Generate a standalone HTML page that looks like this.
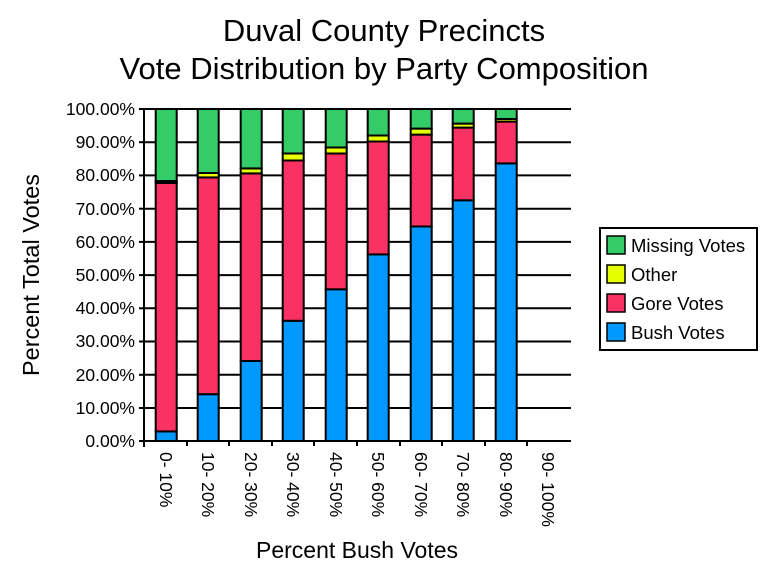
<!DOCTYPE html>
<html><head><meta charset="utf-8"><style>body{margin:0;background:#fff}svg{display:block}text{font-family:"Liberation Sans",Arial,sans-serif;fill:#000}</style></head>
<body>
<svg width="768" height="576" xmlns="http://www.w3.org/2000/svg">
<text x="384" y="41" font-size="31" text-anchor="middle">Duval County Precincts</text>
<text x="384" y="79" font-size="31" text-anchor="middle">Vote Distribution by Party Composition</text>
<g stroke="#000" stroke-width="2">
<line x1="144" y1="109" x2="571" y2="109"/><line x1="144" y1="142.2" x2="571" y2="142.2"/><line x1="144" y1="175.4" x2="571" y2="175.4"/><line x1="144" y1="208.7" x2="571" y2="208.7"/><line x1="144" y1="241.9" x2="571" y2="241.9"/><line x1="144" y1="275.1" x2="571" y2="275.1"/><line x1="144" y1="308.3" x2="571" y2="308.3"/><line x1="144" y1="341.5" x2="571" y2="341.5"/><line x1="144" y1="374.8" x2="571" y2="374.8"/><line x1="144" y1="408" x2="571" y2="408"/><line x1="144" y1="441" x2="571" y2="441"/>
<line x1="144" y1="108" x2="144" y2="447"/>
<line x1="139" y1="109" x2="144" y2="109"/><line x1="139" y1="142.2" x2="144" y2="142.2"/><line x1="139" y1="175.4" x2="144" y2="175.4"/><line x1="139" y1="208.7" x2="144" y2="208.7"/><line x1="139" y1="241.9" x2="144" y2="241.9"/><line x1="139" y1="275.1" x2="144" y2="275.1"/><line x1="139" y1="308.3" x2="144" y2="308.3"/><line x1="139" y1="341.5" x2="144" y2="341.5"/><line x1="139" y1="374.8" x2="144" y2="374.8"/><line x1="139" y1="408" x2="144" y2="408"/><line x1="139" y1="441" x2="144" y2="441"/>
<line x1="187" y1="441" x2="187" y2="446"/><line x1="229" y1="441" x2="229" y2="446"/><line x1="272" y1="441" x2="272" y2="446"/><line x1="314" y1="441" x2="314" y2="446"/><line x1="357" y1="441" x2="357" y2="446"/><line x1="400" y1="441" x2="400" y2="446"/><line x1="442" y1="441" x2="442" y2="446"/><line x1="485" y1="441" x2="485" y2="446"/><line x1="527" y1="441" x2="527" y2="446"/>
</g>
<g font-size="17.5" text-anchor="end">
<text x="135" y="115">100.00%</text><text x="135" y="148">90.00%</text><text x="135" y="181">80.00%</text><text x="135" y="215">70.00%</text><text x="135" y="248">60.00%</text><text x="135" y="281">50.00%</text><text x="135" y="314">40.00%</text><text x="135" y="347">30.00%</text><text x="135" y="381">20.00%</text><text x="135" y="414">10.00%</text><text x="135" y="447">0.00%</text>
</g>
<g stroke="#000" stroke-width="2">
<rect x="155.7" y="431.4" width="21" height="9.6" fill="#0099ff"/><rect x="155.7" y="183" width="21" height="248.4" fill="#fa3263"/><rect x="155.7" y="181" width="21" height="2" fill="#e6ff00"/><rect x="155.7" y="109" width="21" height="72" fill="#33cc66"/>
<rect x="197.7" y="394.2" width="21" height="46.8" fill="#0099ff"/><rect x="197.7" y="177.4" width="21" height="216.8" fill="#fa3263"/><rect x="197.7" y="173" width="21" height="4.4" fill="#e6ff00"/><rect x="197.7" y="109" width="21" height="64" fill="#33cc66"/>
<rect x="240.7" y="361" width="21" height="80" fill="#0099ff"/><rect x="240.7" y="173.4" width="21" height="187.6" fill="#fa3263"/><rect x="240.7" y="168.4" width="21" height="5" fill="#e6ff00"/><rect x="240.7" y="109" width="21" height="59.4" fill="#33cc66"/>
<rect x="282.7" y="320.8" width="21" height="120.2" fill="#0099ff"/><rect x="282.7" y="160.5" width="21" height="160.3" fill="#fa3263"/><rect x="282.7" y="153.5" width="21" height="7" fill="#e6ff00"/><rect x="282.7" y="109" width="21" height="44.5" fill="#33cc66"/>
<rect x="325.7" y="289.3" width="21" height="151.7" fill="#0099ff"/><rect x="325.7" y="153.5" width="21" height="135.8" fill="#fa3263"/><rect x="325.7" y="147.5" width="21" height="6" fill="#e6ff00"/><rect x="325.7" y="109" width="21" height="38.5" fill="#33cc66"/>
<rect x="367.7" y="254.4" width="21" height="186.6" fill="#0099ff"/><rect x="367.7" y="141.5" width="21" height="112.9" fill="#fa3263"/><rect x="367.7" y="135.5" width="21" height="6" fill="#e6ff00"/><rect x="367.7" y="109" width="21" height="26.5" fill="#33cc66"/>
<rect x="410.7" y="226.5" width="21" height="214.5" fill="#0099ff"/><rect x="410.7" y="134.6" width="21" height="91.9" fill="#fa3263"/><rect x="410.7" y="128.6" width="21" height="6" fill="#e6ff00"/><rect x="410.7" y="109" width="21" height="19.6" fill="#33cc66"/>
<rect x="452.7" y="200.3" width="21" height="240.7" fill="#0099ff"/><rect x="452.7" y="127.6" width="21" height="72.7" fill="#fa3263"/><rect x="452.7" y="123.6" width="21" height="4" fill="#e6ff00"/><rect x="452.7" y="109" width="21" height="14.6" fill="#33cc66"/>
<rect x="495.7" y="163.4" width="21" height="277.6" fill="#0099ff"/><rect x="495.7" y="121.6" width="21" height="41.8" fill="#fa3263"/><rect x="495.7" y="119" width="21" height="2.6" fill="#e6ff00"/><rect x="495.7" y="109" width="21" height="10" fill="#33cc66"/>
</g>
<g font-size="17.5">
<text transform="translate(160,452) rotate(90)">0- 10%</text>
<text transform="translate(202,452) rotate(90)">10- 20%</text>
<text transform="translate(245,452) rotate(90)">20- 30%</text>
<text transform="translate(287,452) rotate(90)">30- 40%</text>
<text transform="translate(330,452) rotate(90)">40- 50%</text>
<text transform="translate(372,452) rotate(90)">50- 60%</text>
<text transform="translate(415,452) rotate(90)">60- 70%</text>
<text transform="translate(457,452) rotate(90)">70- 80%</text>
<text transform="translate(500,452) rotate(90)">80- 90%</text>
<text transform="translate(542,452) rotate(90)">90- 100%</text>
</g>
<text x="357" y="558" font-size="23" text-anchor="middle">Percent Bush Votes</text>
<text transform="translate(39,275) rotate(-90)" font-size="23.5" text-anchor="middle">Percent Total Votes</text>
<rect x="600" y="228" width="157" height="122" fill="#fff" stroke="#000" stroke-width="2"/>
<g stroke="#000" stroke-width="1.5">
<rect x="607" y="236" width="18" height="18" fill="#33cc66"/>
<rect x="607" y="265" width="18" height="18" fill="#e6ff00"/>
<rect x="607" y="294" width="18" height="18" fill="#fa3263"/>
<rect x="607" y="323" width="18" height="18" fill="#0099ff"/>
</g>
<g font-size="18.5">
<text x="631" y="252">Missing Votes</text><text x="631" y="281">Other</text><text x="631" y="310">Gore Votes</text><text x="631" y="339">Bush Votes</text>
</g>
</svg>
</body></html>
